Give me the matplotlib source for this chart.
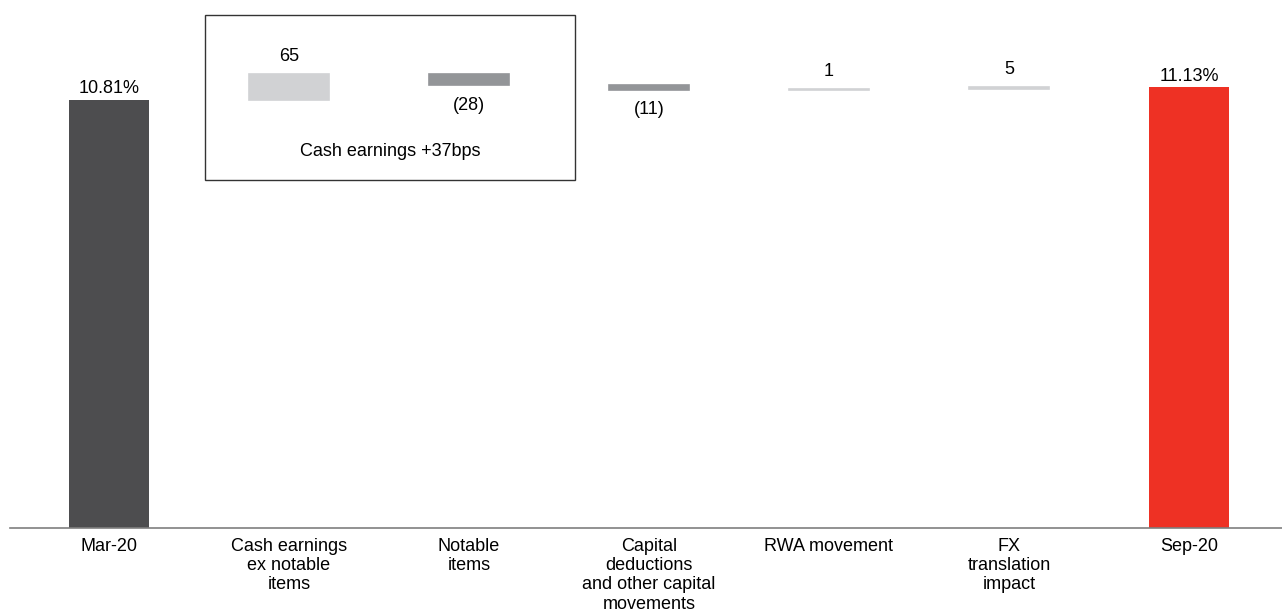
import matplotlib
matplotlib.use("Agg")
import matplotlib.pyplot as plt
from matplotlib.patches import Rectangle
import numpy as np

plt.rcParams['font.family'] = ['Liberation Sans', 'DejaVu Sans']

# CET1 ratio walk, Mar-20 to Sep-20
categories = ["Mar-20", "Cash earnings\nex notable\nitems", "Notable\nitems",
              "Capital\ndeductions\nand other capital\nmovements",
              "RWA movement", "FX\ntranslation\nimpact", "Sep-20"]
start_ratio = 10.81          # %
end_ratio = 11.13            # %
movements_bps = [65, -28, -11, 1, 5]
movement_labels = ["65", "(28)", "(11)", "1", "5"]

DARK = "#4d4d4f"
POS = "#d1d2d4"
NEG = "#939598"
RED = "#ee3124"
FS = 13

fig = plt.figure(figsize=(12.82, 6.12), dpi=100)
ax = fig.add_axes([10 / 1282, 84 / 612, 1272 / 1282, 528 / 612])

x = np.arange(len(categories))
width = 0.44

# opening and closing ratios
ax.bar(x[0], start_ratio, width=width, color=DARK, zorder=2)
ax.bar(x[-1], end_ratio, width=width, color=RED, zorder=2)
ax.annotate(f"{start_ratio:.2f}%", (x[0], start_ratio), xytext=(0, 2),
            textcoords="offset points", ha="center", va="bottom", fontsize=FS)
ax.annotate(f"{end_ratio:.2f}%", (x[-1], end_ratio), xytext=(0, 2),
            textcoords="offset points", ha="center", va="bottom", fontsize=FS)

# floating movement bars
level = start_ratio
for i, (d, lab) in enumerate(zip(movements_bps, movement_labels), start=1):
    delta = d / 100.0
    bottom = level if delta >= 0 else level + delta
    col = POS if delta >= 0 else NEG
    ax.bar(x[i], abs(delta), bottom=bottom, width=width, color=col,
           edgecolor=col, linewidth=1.2, zorder=2)
    if delta >= 0:
        ax.annotate(lab, (x[i], bottom + abs(delta)), xytext=(0, 7),
                    textcoords="offset points", ha="center", va="bottom",
                    fontsize=FS)
    else:
        ax.annotate(lab, (x[i], bottom), xytext=(0, -8),
                    textcoords="offset points", ha="center", va="top",
                    fontsize=FS)
    level += delta

# box grouping the cash earnings components
box = Rectangle((0.533, 0.659), 2.056, 0.3125, transform=ax.get_xaxis_transform(),
                fill=False, edgecolor="#333333", linewidth=1.0, zorder=3)
ax.add_patch(box)
ax.text(1.561, 0.714, "Cash earnings +37bps", transform=ax.get_xaxis_transform(),
        ha="center", va="center", fontsize=FS)

ax.set_xlim(-0.55, -0.55 + 1272 / 180)
ax.set_ylim(0, 13.337)
ax.set_xticks(x)
ax.set_xticklabels(categories, fontsize=FS, linespacing=1.18, va="top")
ax.tick_params(axis="x", length=0, pad=7)
ax.set_yticks([])
for s in ["top", "right", "left"]:
    ax.spines[s].set_visible(False)
ax.spines["bottom"].set_color("#7f7f7f")
ax.spines["bottom"].set_linewidth(1.2)
ax.spines["bottom"].set_zorder(3)

fig.savefig("out.png", dpi=100)
